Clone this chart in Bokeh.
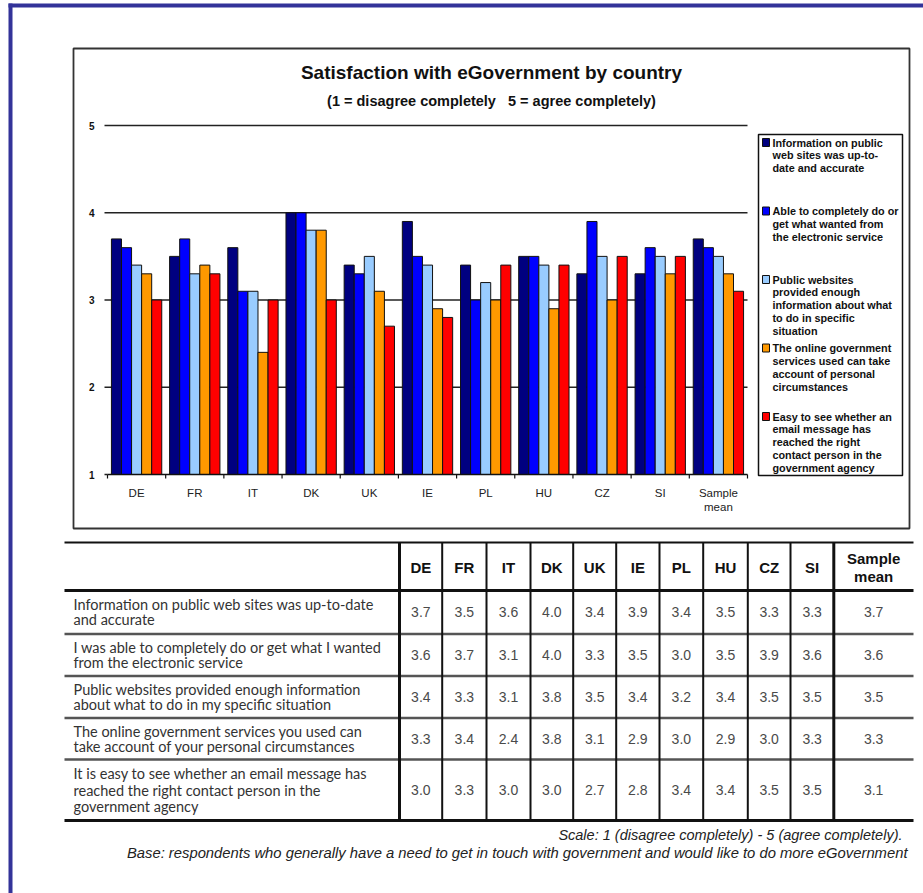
import numpy as np
from bokeh.plotting import figure
from bokeh.models import Range1d, ColumnDataSource
from bokeh.core.properties import value
from bokeh.embed import file_html
from bokeh.resources import INLINE

# ---------------------------------------------------------------- data
countries = ["DE", "FR", "IT", "DK", "UK", "IE", "PL", "HU", "CZ", "SI", "Sample mean"]
axis_labels = ["DE", "FR", "IT", "DK", "UK", "IE", "PL", "HU", "CZ", "SI", "Sample\nmean"]

up_to_date    = [3.7, 3.5, 3.6, 4.0, 3.4, 3.9, 3.4, 3.5, 3.3, 3.3, 3.7]
able_to_do    = [3.6, 3.7, 3.1, 4.0, 3.3, 3.5, 3.0, 3.5, 3.9, 3.6, 3.6]
enough_info   = [3.4, 3.3, 3.1, 3.8, 3.5, 3.4, 3.2, 3.4, 3.5, 3.5, 3.5]
personal      = [3.3, 3.4, 2.4, 3.8, 3.1, 2.9, 3.0, 2.9, 3.0, 3.3, 3.3]
email_reached = [3.0, 3.3, 3.0, 3.0, 2.7, 2.8, 3.4, 3.4, 3.5, 3.5, 3.1]

series = [up_to_date, able_to_do, enough_info, personal, email_reached]
colors = ["#000080", "#0000FF", "#99CCFF", "#FF9900", "#FF0000"]

legend_lines = [
    ["Information on public", "web sites was up-to-", "date and accurate"],
    ["Able to completely do or", "get what wanted from", "the electronic service"],
    ["Public websites", "provided enough", "information about what", "to do in specific", "situation"],
    ["The online government", "services used can take", "account of personal", "circumstances"],
    ["Easy to see whether an", "email message has", "reached the right", "contact person in the", "government agency"],
]

row_labels = [
    ["Information on public web sites was up-to-date", "and accurate"],
    ["I was able to completely do or get what I wanted", "from the electronic service"],
    ["Public websites provided enough information", "about what to do in my specific situation"],
    ["The online government services you used can", "take account of your personal circumstances"],
    ["It is easy to see whether an email message has", "reached the right contact person in the", "government agency"],
]

y_ticks = [1, 2, 3, 4, 5]
title = "Satisfaction with eGovernment by country"
subtitle = "(1 = disagree completely\u00a0\u00a0\u00a05 = agree completely)"
note_scale = "Scale: 1 (disagree completely) - 5 (agree completely)."
note_base = ("Base: respondents who generally have a need to get in touch with "
             "government and would like to do more eGovernment")

# ---------------------------------------------------------------- page canvas
W, H = 923, 893
FL, FT, FR, FB = 107, 125, 747, 474   # bar-chart plot area, page pixels
n = len(countries)

# default ranges are page pixels (y grows downwards)
p = figure(width=W, height=H, x_range=Range1d(0, W), y_range=Range1d(H, 0),
           x_axis_type=None, y_axis_type=None, title_location=None,
           min_border=0, output_backend="svg", toolbar_location=None)
p.outline_line_color = None
p.grid.visible = False
p.background_fill_color = "white"
p.border_fill_color = "white"

# chart scales: categories 0..n across the plot area, score 1..5 up it
sx = n / (FR - FL)
sy = (y_ticks[-1] - y_ticks[0]) / (FB - FT)
p.extra_x_ranges = {"cat": Range1d(-FL * sx, n + (W - FR) * sx)}
p.extra_y_ranges = {"score": Range1d(y_ticks[0] - (H - FB) * sy, y_ticks[-1] + FT * sy)}


def txt(x, y, s, size, style="normal", align="left", font="Liberation Sans",
        color="#000", xr="default", yr="default"):
    xs = list(x) if np.ndim(x) else [x]
    ys = list(y) if np.ndim(y) else [y] * len(xs)
    ss = list(s) if isinstance(s, (list, tuple)) else [s] * len(xs)
    if len(xs) == 1 and len(ys) > 1:
        xs = xs * len(ys)
    p.text(x=xs, y=ys, text=ss, text_font=value(font), text_font_size=f"{size}px",
           text_font_style=style, text_align=align, text_baseline="middle",
           text_color=color, x_range_name=xr, y_range_name=yr)


def box(l, t, r, b, fill=None, line=None, lw=1.0):
    p.quad(left=[l], right=[r], top=[t], bottom=[b],
           fill_color=fill if fill else None, fill_alpha=1.0 if fill else 0.0,
           line_color=line, line_width=lw)


# page border
box(8, 3, 12, H, fill="#333399")
box(8, 3, W, 7, fill="#333399")

# chart frame
box(73, 48, 909, 528, line="#333", lw=1.8)

# titles
txt(491, 72, title, 19, style="bold", align="center", color="#111")
txt(491, 100, subtitle, 14.5, style="bold", align="center", color="#111")

# ---------------------------------------------------------------- bar chart
centers = np.arange(n) + 0.5

# value gridlines and y tick labels
p.segment(x0=FL - 3, x1=FR, y0=y_ticks[1:], y1=y_ticks[1:], y_range_name="score",
          line_color="#222", line_width=1.5)
p.segment(x0=FL - 3, x1=FL, y0=y_ticks[:1], y1=y_ticks[:1], y_range_name="score",
          line_color="#222", line_width=1.5)
txt(94, y_ticks, [str(t) for t in y_ticks], 10, style="bold", align="right",
    color="#111", yr="score")

# grouped bars
bw = 0.173
for k, (vals, col) in enumerate(zip(series, colors)):
    src = ColumnDataSource(dict(x=centers + (k - 2) * bw, top=vals))
    p.vbar(x="x", top="top", bottom=y_ticks[0], width=bw, source=src,
           x_range_name="cat", y_range_name="score",
           fill_color=col, line_color="#111", line_width=1.0)

# category axis: baseline, boundary ticks, labels
p.segment(x0=[0], x1=[n], y0=[y_ticks[0]], y1=[y_ticks[0]],
          x_range_name="cat", y_range_name="score", line_color="#111", line_width=1.5)
bounds = np.arange(n + 1)
p.segment(x0=bounds, x1=bounds, y0=[FB] * (n + 1), y1=[FB + 4] * (n + 1),
          x_range_name="cat", line_color="#111", line_width=1.2)
for c, lab in zip(centers, axis_labels):
    parts = lab.split("\n")
    for j, part in enumerate(parts):
        txt(c, 492 + j * 14.5, part, 11.5, align="center", color="#222", xr="cat")

# legend
box(758, 134, 902, 475, line="#111", lw=1.5)
for i, (lines, col) in enumerate(zip(legend_lines, colors)):
    y0 = 142 + i * 68.5
    box(762, y0 - 4, 769, y0 + 4, fill=col, line="#111", lw=1)
    txt(772, [y0 + j * 12.9 for j in range(len(lines))], lines, 10.8,
        style="bold", color="#111")

# ---------------------------------------------------------------- table
col_edges = [399, 441.7, 486, 530, 572.7, 615.7, 659, 702.7, 747.3, 790, 833.3, 913]
row_edges = [590, 633.5, 675.5, 717.5, 759, 820]
t_left, t_top = 64, 542

# horizontal rules
box(t_left, t_top - 1, 913, t_top + 1, fill="#111")
box(t_left, 588.5, 913, 591.5, fill="#111")
for yy in row_edges[1:-1]:
    box(t_left, yy - 1.2, 913, yy + 1.2, fill="#555")
box(t_left, 818.5, 913, 821.5, fill="#111")

# vertical rules
for k, xx in enumerate(col_edges[:-1]):
    thick = k in (0, len(col_edges) - 2)
    hw = 1.5 if thick else 1.0
    box(xx - hw, t_top, xx + hw, 820, fill="#111")

# header
for k, c in enumerate(countries):
    cx = (col_edges[k] + col_edges[k + 1]) / 2
    parts = c.split(" ")
    if len(parts) == 1:
        txt(cx, 566.5, c, 15, style="bold", align="center", color="#111")
    else:
        for j, part in enumerate(parts):
            txt(cx, 557.5 + j * 18, part, 15, style="bold", align="center", color="#111")

# rows
for r, (lines, vals) in enumerate(zip(row_labels, series)):
    cy = (row_edges[r] + row_edges[r + 1]) / 2
    step = 16.5 if len(lines) > 2 else 15
    y_first = cy - step * (len(lines) - 1) / 2
    txt(73, [y_first + j * step for j in range(len(lines))], lines, 14.5,
        font="Lato", color="#333")
    cxs = [(col_edges[k] + col_edges[k + 1]) / 2 for k in range(len(vals))]
    txt(cxs, cy, [f"{v:.1f}" for v in vals], 14, align="center", color="#4a4a4a")

# footnotes
txt(902, 834, note_scale, 14.5, style="italic", align="right", color="#222")
txt(907, 852, note_base, 14.8, style="italic", align="right", color="#222")

open("out.html", "w").write(file_html(p, INLINE))
